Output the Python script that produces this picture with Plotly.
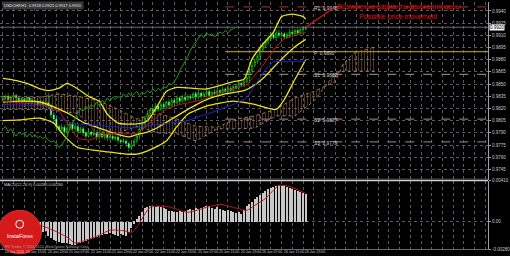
import plotly.graph_objects as go

# ---------------- data ----------------
header_text = "USDCHF,H1  0.9918 0.9921 0.9917 0.9920"
macd_header = "MACD(12,26,9) 0.00280 0.00280"
date_labels = ["20 Jan 2016", "20 Jan 15:00", "20 Jan 23:00", "21 Jan 07:00", "21 Jan 15:00",
               "21 Jan 23:00", "22 Jan 07:00", "22 Jan 15:00", "22 Jan 23:00", "25 Jan 07:00",
               "25 Jan 15:00", "25 Jan 23:00", "26 Jan 07:00", "26 Jan 15:00", "26 Jan 23:00"]
label_every = 8

closes = [0.9833, 0.9835, 0.9831, 0.9834, 0.9836, 0.9833, 0.9830, 0.9831, 0.9829, 0.9833,
          0.9830, 0.9828, 0.9829, 0.9825, 0.9828, 0.9824, 0.9827, 0.9823, 0.9812, 0.9807,
          0.9798, 0.9794, 0.9797, 0.9791, 0.9796, 0.9801, 0.9795, 0.9798, 0.9792, 0.9795,
          0.9790, 0.9786, 0.9791, 0.9788, 0.9790, 0.9785, 0.9789, 0.9785, 0.9788, 0.9784,
          0.9786, 0.9783, 0.9785, 0.9781, 0.9779, 0.9780, 0.9777, 0.9772, 0.9775, 0.9780,
          0.9786, 0.9795, 0.9802, 0.9808, 0.9814, 0.9819, 0.9817, 0.9823, 0.9819, 0.9825,
          0.9822, 0.9828, 0.9824, 0.9830, 0.9827, 0.9833, 0.9829, 0.9834, 0.9831, 0.9835,
          0.9833, 0.9838, 0.9834, 0.9839, 0.9835, 0.9838, 0.9841, 0.9836, 0.9840, 0.9838,
          0.9842, 0.9839, 0.9844, 0.9841, 0.9845, 0.9842, 0.9847, 0.9845, 0.9851, 0.9849,
          0.9853, 0.9858, 0.9866, 0.9873, 0.9878, 0.9884, 0.9892, 0.9897, 0.9902, 0.9906,
          0.9911, 0.9907, 0.9913, 0.9910, 0.9912, 0.9908, 0.9911, 0.9914, 0.9912, 0.9916,
          0.9913, 0.9917, 0.9918, 0.9920]
first_open = 0.9831
upper_wick_pips = [3, 2, 4, 2, 3, 2, 3, 2, 4, 3, 2, 3, 2, 4, 3, 2, 3, 12, 3, 4,
                   3, 2, 4, 3, 5, 2, 3, 4, 2, 3, 3, 2, 4, 2, 3, 2, 3, 4, 2, 3,
                   2, 3, 2, 3, 2, 4, 3, 2, 5, 3, 4, 3, 5, 3, 4, 2, 3, 4, 2, 3,
                   3, 2, 4, 3, 2, 3, 2, 3, 4, 2, 3, 2, 3, 4, 2, 3, 2, 3, 2, 4,
                   3, 2, 3, 2, 4, 3, 2, 3, 4, 2, 3, 4, 3, 5, 4, 3, 5, 4, 3, 4,
                   3, 5, 3, 4, 3, 2, 3, 4, 3, 2, 3, 2, 3, 2]
lower_wick_pips = [2, 3, 2, 4, 2, 3, 2, 3, 2, 3, 3, 2, 4, 3, 2, 3, 2, 3, 4, 5,
                   4, 3, 2, 4, 3, 3, 2, 4, 3, 2, 4, 3, 2, 3, 2, 4, 3, 2, 3, 4,
                   3, 2, 3, 4, 3, 2, 4, 5, 3, 2, 3, 4, 2, 3, 2, 4, 3, 2, 3, 2,
                   2, 3, 2, 3, 3, 2, 4, 2, 3, 2, 3, 2, 3, 2, 4, 2, 3, 2, 3, 2,
                   2, 3, 2, 3, 2, 4, 3, 2, 3, 2, 3, 2, 4, 3, 2, 3, 4, 3, 2, 4,
                   3, 2, 4, 3, 2, 3, 2, 4, 3, 2, 3, 2, 3, 2]

bb_upper_bars = [0, 4, 9, 14, 17, 21, 24, 28, 32, 36, 39, 43, 50, 54, 58, 61, 65, 76, 86, 90, 93, 97, 101, 104, 108, 112, 113]
bb_upper = [0.9857, 0.9855, 0.9851, 0.9844, 0.9842, 0.9845, 0.9851, 0.9844, 0.9835, 0.9829, 0.9813, 0.9802, 0.9801,
            0.9805, 0.9825, 0.9841, 0.9846, 0.9844, 0.9853, 0.9856, 0.9881, 0.9899, 0.9914, 0.9933, 0.9936, 0.9933, 0.9930]
bb_mid_bars = [0, 6, 14, 19, 25, 30, 36, 41, 47, 50, 54, 58, 61, 65, 69, 76, 83, 90, 94, 98, 102, 105, 109, 113]
bb_mid = [0.9828, 0.9829, 0.9828, 0.9822, 0.9813, 0.9803, 0.9796, 0.9790, 0.9785, 0.9788, 0.9791, 0.9797,
          0.9803, 0.9811, 0.9819, 0.9831, 0.9838, 0.9842, 0.9849, 0.9860, 0.9874, 0.9884, 0.9896, 0.9905]
bb_lower_bars = [0, 6, 14, 19, 23, 28, 36, 41, 46, 50, 54, 58, 61, 65, 69, 76, 86, 91, 94, 102, 105, 109, 113]
bb_lower = [0.9805, 0.9806, 0.9808, 0.9802, 0.9786, 0.9772, 0.9768, 0.9766, 0.9764, 0.9764, 0.9768, 0.9774,
            0.9780, 0.9798, 0.9813, 0.9823, 0.9829, 0.9827, 0.9825, 0.9819, 0.9831, 0.9856, 0.9880]

tenkan_bars = [0, 6, 15, 21, 24, 28, 32, 39, 46, 50, 57, 61, 66, 75, 79, 82, 91, 97, 102, 105, 110, 113]
tenkan = [0.9829, 0.9827, 0.9825, 0.9817, 0.9802, 0.9783, 0.9781, 0.9789, 0.9789, 0.9789, 0.9808,
          0.9820, 0.9825, 0.9831, 0.9838, 0.9841, 0.9849, 0.9873, 0.9896, 0.9906, 0.9911, 0.9914]
kijun_bars = [0, 17, 21, 27, 48, 60, 69, 74, 77, 86, 91, 98, 101, 113]
kijun = [0.9825, 0.9823, 0.9808, 0.9801, 0.9796, 0.9801, 0.9805, 0.9811, 0.9814, 0.9825, 0.9833,
         0.9868, 0.9878, 0.9878]
chikou_shift = 26

cloud_bars = [0, 6, 14, 21, 28, 36, 43, 50, 58, 65, 72, 80, 87, 94, 102, 109, 116, 124, 127, 131, 135, 139]
senkou_a = [0.9835, 0.9833, 0.9834, 0.9838, 0.9835, 0.9829, 0.9819, 0.9807, 0.9814, 0.9807, 0.9798,
            0.9797, 0.9807, 0.9811, 0.9819, 0.9833, 0.9841, 0.9853, 0.9875, 0.9888, 0.9892, 0.9896]
senkou_b = [0.9819, 0.9819, 0.9819, 0.9817, 0.9814, 0.9786, 0.9790, 0.9798, 0.9790, 0.9789, 0.9780,
            0.9795, 0.9795, 0.9796, 0.9811, 0.9811, 0.9829, 0.9863, 0.9866, 0.9866, 0.9866, 0.9866]

pivot_names = ["R1", "P", "S1", "S2", "S3"]
pivot_values = [0.9945, 0.9890, 0.9862, 0.9807, 0.9779]

price_ticks = [0.9940, 0.9925, 0.9910, 0.9895, 0.9880, 0.9865, 0.9850, 0.9835,
               0.9820, 0.9805, 0.9790, 0.9775, 0.9760, 0.9745]

macd_hist = [-0.0007, -0.0007, -0.0008, -0.0008, -0.0008, -0.0007, -0.0007, -0.0008, -0.0008, -0.0007,
             -0.0008, -0.0009, -0.0008, -0.0008, -0.0009, -0.0010, -0.0009,
             -0.0014, -0.0016, -0.0018, -0.0019, -0.0020, -0.0021, -0.0022, -0.0021,
             -0.0023, -0.0024, -0.0024, -0.0022,
             -0.0021, -0.0020, -0.0019, -0.0018, -0.0017, -0.0016, -0.0015, -0.0014, -0.0013, -0.0012, -0.0012,
             -0.0011, -0.0012, -0.0013, -0.0014, -0.0012, -0.0013, -0.0014, -0.0010, -0.0006,
             -0.0002, 0.0003,
             0.0006, 0.0010, 0.0014,
             0.0015, 0.0016, 0.0016, 0.0015, 0.0016, 0.0015, 0.0014, 0.0013,
             0.0011, 0.0011, 0.0010, 0.0010, 0.0011, 0.0010, 0.0011,
             0.0012, 0.0013, 0.0012, 0.0014, 0.0013, 0.0014, 0.0015, 0.0016,
             0.0016, 0.0014, 0.0013, 0.0015,
             0.0013, 0.0012, 0.0011, 0.0012, 0.0011, 0.0010, 0.0009, 0.0010,
             0.0008, 0.0012, 0.0016,
             0.0018, 0.0020, 0.0023, 0.0025, 0.0027, 0.0029, 0.0031, 0.0033,
             0.0034, 0.0035, 0.0036, 0.0037, 0.0036, 0.0037,
             0.0035, 0.0034, 0.0033, 0.0032, 0.0031, 0.0030, 0.0029, 0.0028]
signal_bars = [0, 11, 17, 24, 27, 31, 36, 40, 46, 48, 50, 55, 61, 69, 76, 81, 86, 91, 94, 98, 103, 107, 113]
signal = [-0.0001, -0.0002, -0.0007, -0.0016, -0.0022, -0.0019, -0.0014, -0.0009, -0.0010, -0.0012, -0.0006,
          0.0014, 0.0015, 0.0009, 0.0014, 0.0017, 0.0014, 0.0011, 0.0016, 0.0023, 0.0036, 0.0035, 0.0028]
macd_ticks = [0.0041, 0.0, -0.0028]
macd_tick_text = ["0.00410", "0.00", "-0.00280"]

proj_text_ru = "Возможные варианты движения цены"
proj_text_en = "Possible price movement"

# ---------------- derived ----------------
N = len(closes)
bars = list(range(N))
opens = [first_open] + closes[:-1]
highs = [max(o, c) + w * 0.0001 for o, c, w in zip(opens, closes, upper_wick_pips)]
lows = [min(o, c) - w * 0.0001 for o, c, w in zip(opens, closes, lower_wick_pips)]
chikou_x = bars[:N - chikou_shift]
chikou_y = closes[chikou_shift:]

# ---------------- layout geometry ----------------
W, H = 510, 256
ML, MR, MT, MB = 0, 14, 0, 7
PW, PH = W - ML - MR, H - MT - MB  # 496 x 249
X0, X1 = -1.03, 180.99
Y_TOP, Y_BOT = 0.9951, 0.97326
main_dom = [(PH - 179) / PH, 1.0]
macd_dom = [0.0, (PH - 180) / PH]
M_TOP, M_BOT = 0.0041, -0.0028

def px_x(p):
    return p / PW

def px_y(p):
    return (PH - p) / PH

FONT = "Liberation Sans"
GRID = "rgba(120,120,135,0.75)"

fig = go.Figure()

# Ichimoku cloud
fig.add_trace(go.Scatter(x=cloud_bars, y=senkou_b, mode="lines",
                         line=dict(color="#9a7a7a", width=1, dash="dot"),
                         xaxis="x", yaxis="y", hoverinfo="skip"))
fig.add_trace(go.Scatter(x=cloud_bars, y=senkou_a, mode="lines", fill="tonexty",
                         fillcolor="rgba(0,0,0,0)",
                         fillpattern=dict(shape="|", fgcolor="#9a6a45", bgcolor="rgba(0,0,0,0)",
                                          size=3, solidity=0.35),
                         line=dict(color="#b07848", width=1, dash="dot"),
                         xaxis="x", yaxis="y", hoverinfo="skip"))

# pivot lines
piv_style = {"R1": ("#8b2a18", "dash"), "P": ("#a88a10", "solid"), "S1": ("#8a7a70", "dash"),
             "S2": ("#8a7070", "dash"), "S3": ("#7a7070", "dash")}
for nm, val in zip(pivot_names, pivot_values):
    col, dsh = piv_style[nm]
    fig.add_trace(go.Scatter(x=[83, X1], y=[val, val], mode="lines",
                             line=dict(color=col, width=1.2, dash=dsh),
                             xaxis="x", yaxis="y", hoverinfo="skip"))

# bid line
fig.add_trace(go.Scatter(x=[X0, X1], y=[closes[-1], closes[-1]], mode="lines",
                         line=dict(color="#6c6c7c", width=1), xaxis="x", yaxis="y", hoverinfo="skip"))

# Bollinger bands
for bx, by in ((bb_upper_bars, bb_upper), (bb_mid_bars, bb_mid), (bb_lower_bars, bb_lower)):
    fig.add_trace(go.Scatter(x=bx, y=by, mode="lines", line=dict(color="#e8e020", width=1.3,
                                                                shape="spline", smoothing=0.6),
                             xaxis="x", yaxis="y", hoverinfo="skip"))

# Tenkan / Kijun / Chikou
fig.add_trace(go.Scatter(x=kijun_bars, y=kijun, mode="lines", line=dict(color="#2020d0", width=1),
                         xaxis="x", yaxis="y", hoverinfo="skip"))
fig.add_trace(go.Scatter(x=tenkan_bars, y=tenkan, mode="lines", line=dict(color="#c01818", width=1),
                         xaxis="x", yaxis="y", hoverinfo="skip"))
fig.add_trace(go.Scatter(x=chikou_x, y=chikou_y, mode="lines", line=dict(color="#1e9a1e", width=1),
                         xaxis="x", yaxis="y", hoverinfo="skip"))

# candles
fig.add_trace(go.Candlestick(x=bars, open=opens, high=highs, low=lows, close=closes,
                             increasing=dict(line=dict(color="#20e020", width=0.6), fillcolor="#000000"),
                             decreasing=dict(line=dict(color="#20e020", width=0.6), fillcolor="#ffffff"),
                             whiskerwidth=0, xaxis="x", yaxis="y", hoverinfo="skip"))

# MACD
fig.add_trace(go.Bar(x=bars, y=macd_hist, marker=dict(color="#c8c8c8", line=dict(width=0)),
                     width=0.42, xaxis="x2", yaxis="y2", hoverinfo="skip"))
fig.add_trace(go.Scatter(x=signal_bars, y=signal, mode="lines",
                         line=dict(color="#c01818", width=1, shape="spline", smoothing=0.6),
                         xaxis="x2", yaxis="y2", hoverinfo="skip"))

grid_vals = list(range(0, 181, 4))
ann = []
shapes = []

# date labels
for i, lab in enumerate(date_labels):
    ann.append(dict(x=i * label_every, y=px_y(252.5), xref="x", yref="paper", text=lab,
                    showarrow=False, xanchor="left", yanchor="middle",
                    font=dict(family=FONT, size=3.5, color="#c8c8c8")))

# pivot labels
for nm, val in zip(pivot_names, pivot_values):
    ann.append(dict(x=115.2, y=val, xref="x", yref="y", text=f"{nm}  {val:.4f}", showarrow=False,
                    xanchor="left", yanchor="middle", yshift=-1.5,
                    font=dict(family=FONT, size=4.8, color="#d0d0d0")))

# projection arrow and text
ann.append(dict(x=123.5, y=0.9944, ax=113, ay=closes[-1], xref="x", yref="y", axref="x", ayref="y",
                text="", showarrow=True, arrowhead=0, arrowwidth=1.2, arrowcolor="#e01010"))
ann.append(dict(x=123.8, y=0.99445, xref="x", yref="y", text=proj_text_ru, showarrow=False,
                xanchor="left", yanchor="middle", font=dict(family=FONT, size=7, color="#e81010")))
ann.append(dict(x=132.0, y=0.9933, xref="x", yref="y", text=proj_text_en, showarrow=False,
                xanchor="left", yanchor="middle", font=dict(family=FONT, size=7, color="#e81010")))

# bid price box
ann.append(dict(x=1.0, y=closes[-1], xref="paper", yref="y", text=f"{closes[-1]:.4f}", showarrow=False,
                xanchor="left", yanchor="middle", xshift=1, bgcolor="#ffffff", borderpad=0,
                font=dict(family=FONT, size=4.5, color="#000000")))

# headers
ann.append(dict(x=px_x(2), y=px_y(3.5), xref="paper", yref="paper", text=header_text, showarrow=False,
                xanchor="left", yanchor="middle", bgcolor="#3a3a3a",
                font=dict(family=FONT, size=4.0, color="#e0e0e0")))
ann.append(dict(x=px_x(2), y=px_y(184), xref="paper", yref="paper", text=macd_header, showarrow=False,
                xanchor="left", yanchor="middle", font=dict(family=FONT, size=4.0, color="#d0d0d0")))

# InstaForex badge
shapes.append(dict(type="circle", xref="paper", yref="paper", x0=px_x(-2), x1=px_x(42),
                   y0=px_y(254), y1=px_y(210), fillcolor="#d41a1a", line=dict(color="#e03030", width=1),
                   layer="above"))
shapes.append(dict(type="circle", xref="paper", yref="paper", x0=px_x(16), x1=px_x(24),
                   y0=px_y(228), y1=px_y(220), fillcolor="rgba(0,0,0,0)", line=dict(color="#ffffff", width=1),
                   layer="above"))
ann.append(dict(x=px_x(20), y=px_y(236), xref="paper", yref="paper", text="InstaForex", showarrow=False,
                xanchor="center", yanchor="middle", font=dict(family=FONT, size=5.5, color="#ffffff")))
ann.append(dict(x=px_x(3), y=px_y(246.5), xref="paper", yref="paper",
                text="IFX Trader, © 2001-2014, MetaQuotes Software Corp.", showarrow=False,
                xanchor="left", yanchor="middle", font=dict(family=FONT, size=3.5, color="#a0a0a0")))

# separator between panels
shapes.append(dict(type="line", xref="paper", yref="paper", x0=0, x1=1, y0=px_y(180), y1=px_y(180),
                   line=dict(color="#d0d0d0", width=1.5)))
shapes.append(dict(type="line", xref="paper", yref="paper", x0=0, x1=1, y0=px_y(178.5), y1=px_y(178.5),
                   line=dict(color="#505050", width=1)))

fig.update_layout(
    width=W, height=H, margin=dict(l=ML, r=MR, t=MT, b=MB),
    paper_bgcolor="#000000", plot_bgcolor="#000000", showlegend=False,
    bargap=0, annotations=ann, shapes=shapes,
    xaxis=dict(domain=[0, 1], anchor="y", range=[X0, X1], tickvals=grid_vals, showticklabels=False,
               showgrid=True, gridcolor=GRID, griddash="dot", gridwidth=1, zeroline=False,
               rangeslider=dict(visible=False), ticks=""),
    yaxis=dict(domain=main_dom, anchor="x", side="right", range=[Y_BOT, Y_TOP], tickvals=price_ticks,
               ticktext=[f"{v:.4f}" for v in price_ticks], showgrid=True, gridcolor=GRID, griddash="dot",
               zeroline=False, ticks="outside", ticklen=2, tickcolor="#a0a0a0",
               tickfont=dict(family=FONT, size=4.5, color="#c8c8c8"),
               showline=True, linecolor="#a0a0a0", linewidth=1),
    xaxis2=dict(domain=[0, 1], anchor="y2", range=[X0, X1], tickvals=grid_vals, showticklabels=False,
                showgrid=True, gridcolor=GRID, griddash="dot", zeroline=False, ticks="",
                showline=True, linecolor="#6a6a6a", linewidth=1),
    yaxis2=dict(domain=macd_dom, anchor="x2", side="right", range=[M_BOT, M_TOP], tickvals=macd_ticks,
                ticktext=macd_tick_text, showgrid=True, gridcolor=GRID, griddash="dot", zeroline=False,
                ticks="outside", ticklen=2, tickcolor="#a0a0a0",
                tickfont=dict(family=FONT, size=4.5, color="#c8c8c8"),
                showline=True, linecolor="#a0a0a0", linewidth=1),
)

fig.write_html("out.html")
